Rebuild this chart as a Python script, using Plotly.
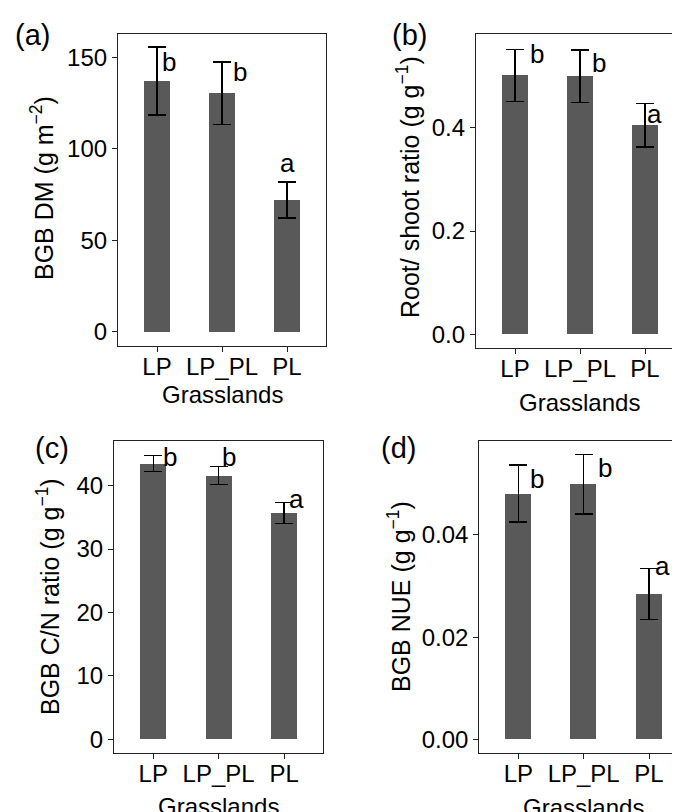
import plotly.graph_objects as go

# ---------------- data ----------------
categories = ["LP", "LP_PL", "PL"]

bgb_dm = [137.0, 130.3, 72.0]
bgb_dm_se = [18.5, 17.2, 9.8]

root_shoot = [0.501, 0.4995, 0.4046]
root_shoot_se = [0.050, 0.051, 0.042]

cn_ratio = [43.5, 41.6, 35.7]
cn_ratio_se = [1.3, 1.4, 1.65]

bgb_nue = [0.0481, 0.0499, 0.0284]
bgb_nue_se = [0.0056, 0.0058, 0.0050]

letters = ["b", "b", "a"]

panel_tags = ["(a)", "(b)", "(c)", "(d)"]
y_titles = [
    "BGB DM (g m<sup>−2</sup>)",
    "Root/ shoot ratio (g g<sup>−1</sup>)",
    "BGB C/N ratio (g g<sup>−1</sup>)",
    "BGB NUE (g g<sup>−1</sup>)",
]
x_title = "Grasslands"

y_tickvals = [
    [0, 50, 100, 150],
    [0.0, 0.2, 0.4],
    [0, 10, 20, 30, 40],
    [0.00, 0.02, 0.04],
]
y_tickformat = ["d", ".1f", "d", ".2f"]

# ---------------- layout helpers ----------------
# the page body has an 8px default margin; figure sized so it fits the window
OFF = 8
W, H = 680 - OFF, 812 - OFF
FONT = "Liberation Sans, Arial, Helvetica, sans-serif"
BAR = "#595959"
LINE = "#222222"


def px_x(p):
    return (p - OFF) / W


def px_y(p):
    return 1 - (p - OFF) / H


panels = [
    dict(vals=bgb_dm, se=bgb_dm_se,
         xdom=[px_x(118), px_x(326)], ydom=[px_y(346), px_y(34)],
         xrange=[-0.6, 2.6], yrange=[-7.9, 162.7], mirror_y=True,
         shifts=[(11.7, -14.7), (17.7, -10.3), (0, 19.3)],
         tag=(13, 35), ytitle=(42, 188), xtitle=(222, 394)),
    dict(vals=root_shoot, se=root_shoot_se,
         xdom=[px_x(476), 1.0], ydom=[px_y(348.3), px_y(34.3)],
         xrange=[-0.6, -0.6 + (680 - 476) / 65.0], yrange=[-0.0271, 0.5808], mirror_y=False,
         shifts=[(22.4, -4), (19, -13.3), (9, -10)],
         tag=(390, 35.5), ytitle=(408, 187), xtitle=(579.5, 402)),
    dict(vals=cn_ratio, se=cn_ratio_se,
         xdom=[px_x(114), px_x(323.3)], ydom=[px_y(753.3), px_y(441)],
         xrange=[-0.6, 2.6], yrange=[-2.21, 47.05], mirror_y=True,
         shifts=[(16.6, -1.4), (10, 10), (12.3, 3.7)],
         tag=(33, 448), ytitle=(48, 597), xtitle=(218.5, 806)),
    dict(vals=bgb_nue, se=bgb_nue_se,
         xdom=[px_x(479.3), 1.0], ydom=[px_y(753.3), px_y(441)],
         xrange=[-0.597, -0.597 + (680 - 479.3) / 65.35], yrange=[-0.00274, 0.05838], mirror_y=False,
         shifts=[(18.4, -14), (21.3, -13.3), (13.7, 3)],
         tag=(379, 448), ytitle=(399, 597), xtitle=(583.5, 807)),
]

fig = go.Figure()
annotations = []
layout_axes = {}

for i, p in enumerate(panels):
    n = "" if i == 0 else str(i + 1)
    xa, ya = "x" + n, "y" + n
    fig.add_trace(go.Bar(
        x=categories, y=p["vals"], width=0.4,
        marker=dict(color=BAR, line=dict(width=0)),
        error_y=dict(type="data", array=p["se"], visible=True,
                     color="black", thickness=1.4, width=9),
        xaxis=xa, yaxis=ya, showlegend=False, hoverinfo="skip",
    ))
    layout_axes["xaxis" + n] = dict(
        domain=p["xdom"], anchor=ya, type="category",
        range=p["xrange"], showgrid=False, zeroline=False,
        showline=True, linecolor=LINE, linewidth=1.2, mirror=True,
        ticks="outside", ticklen=5, tickwidth=1.2, tickcolor=LINE,
        ticklabelstandoff=-6,
        tickfont=dict(family=FONT, size=24, color="black"),
        fixedrange=True,
    )
    layout_axes["yaxis" + n] = dict(
        domain=p["ydom"], anchor=xa, range=p["yrange"],
        tickvals=y_tickvals[i], tickformat=y_tickformat[i],
        showgrid=False, zeroline=False,
        showline=True, linecolor=LINE, linewidth=1.2, mirror=p["mirror_y"],
        ticks="outside", ticklen=5, tickwidth=1.2, tickcolor=LINE,
        tickfont=dict(family=FONT, size=24, color="black"),
        fixedrange=True,
    )
    # significance letters
    for j, cat in enumerate(categories):
        dx, dy = p["shifts"][j]
        annotations.append(dict(
            x=j, y=p["vals"][j] + p["se"][j], xref=xa, yref=ya,
            text=letters[j], showarrow=False, xanchor="center", yanchor="middle",
            xshift=dx, yshift=dy,
            font=dict(family=FONT, size=26, color="black"),
        ))
    # panel tag
    tx, ty = p["tag"]
    annotations.append(dict(
        x=px_x(tx), y=px_y(ty), xref="paper", yref="paper",
        text=panel_tags[i], showarrow=False, xanchor="left", yanchor="middle",
        font=dict(family=FONT, size=29, color="black"),
    ))
    # y title
    yx, yy = p["ytitle"]
    annotations.append(dict(
        x=px_x(yx), y=px_y(yy), xref="paper", yref="paper",
        text=y_titles[i], showarrow=False, textangle=-90,
        xanchor="center", yanchor="middle",
        font=dict(family=FONT, size=25, color="black"),
    ))
    # x title
    xx, xy = p["xtitle"]
    annotations.append(dict(
        x=px_x(xx), y=px_y(xy), xref="paper", yref="paper",
        text=x_title, showarrow=False, xanchor="center", yanchor="middle",
        font=dict(family=FONT, size=24, color="black"),
    ))

fig.update_layout(
    width=W, height=H, autosize=False,
    margin=dict(l=0, r=0, t=0, b=0),
    paper_bgcolor="white", plot_bgcolor="white",
    annotations=annotations, bargap=0,
    **layout_axes,
)

fig.write_html("out.html", config={"displayModeBar": False})
